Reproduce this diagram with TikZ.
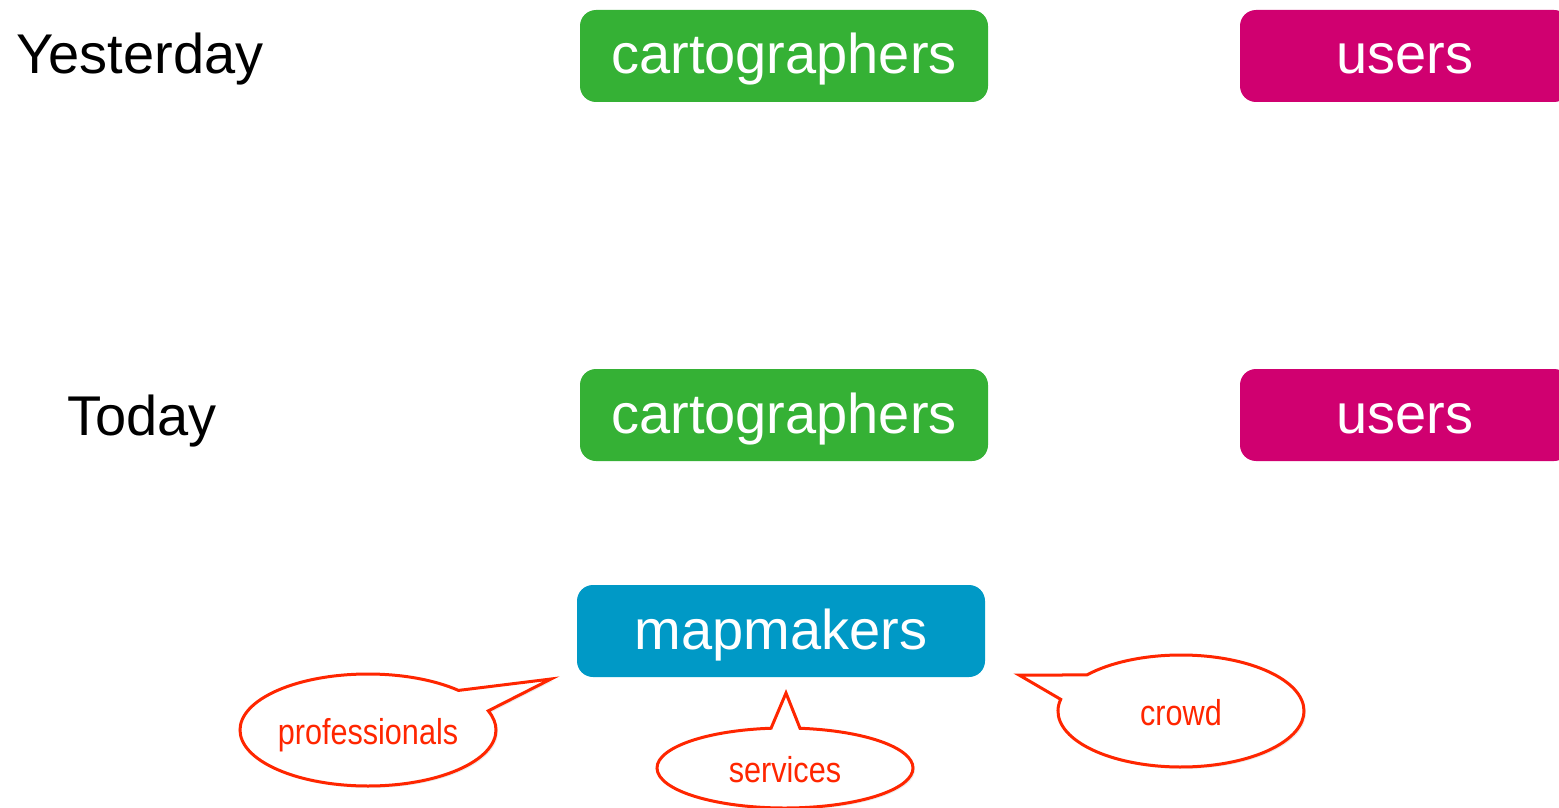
\documentclass[tikz,border=0pt]{standalone}
\usepackage{fontspec}
\setmainfont{Liberation Sans}
\newfontfamily\narrowsans[FakeStretch=0.85]{Liberation Sans}
\usetikzlibrary{shapes.callouts,shadows}
\definecolor{cartogreen}{HTML}{35B135}
\definecolor{usermagenta}{HTML}{D00070}
\definecolor{mapblue}{HTML}{0099C6}
\definecolor{calloutred}{HTML}{FF2600}
\tikzset{
  rolebox/.style={rounded corners=8pt, minimum width=204pt, minimum height=46pt, inner sep=0pt,
    text=white, font=\fontsize{28}{30}\selectfont, text height=22pt, text depth=4pt},
  daylabel/.style={anchor=base, inner sep=0pt, font=\fontsize{28}{30}\selectfont},
  bubble/.style={ellipse callout, draw=calloutred, line width=1.5pt, fill=white, inner sep=0pt,
    text=calloutred, font=\narrowsans\fontsize{18}{20}\selectfont, text height=14pt, text depth=0pt,
    drop shadow={opacity=0.15, shadow xshift=1pt, shadow yshift=-1pt}}
}
\begin{document}
\begin{tikzpicture}[x=0.5pt, y=-0.5pt]
\useasboundingbox (0,0) rectangle (1559,808);
\clip (0,0) rectangle (1559,808);

\node[daylabel] (yesterday) at (140,74){Yesterday};
\node[rolebox, fill=cartogreen] (carto1) at (784,56){cartographers};
\node[rolebox, fill=usermagenta, minimum width=165pt] (users1) at (1405,56){users};

\node[daylabel] (today) at (142,435){Today};
\node[rolebox, fill=cartogreen] (carto2) at (784,415){cartographers};
\node[rolebox, fill=usermagenta, minimum width=165pt] (users2) at (1405,415){users};

\node[rolebox, fill=mapblue] (mapmakers) at (781,631){mapmakers};

\coordinate (tipprof) at (551,679);
\coordinate (tipserv) at (786,693);
\coordinate (tipcrowd) at (1019,675);

\node[bubble, minimum width=128pt, minimum height=56pt, callout pointer arc=25,
  callout absolute pointer={(tipprof)}] (professionals) at (368,730){professionals};
\node[bubble, minimum width=128pt, minimum height=40pt, callout pointer arc=13,
  callout absolute pointer={(tipserv)}] (services) at (785,768){services};
\node[bubble, minimum width=123pt, minimum height=56pt, callout pointer arc=28,
  callout absolute pointer={(tipcrowd)}] (crowd) at (1181,711){crowd};

\end{tikzpicture}
\end{document}
